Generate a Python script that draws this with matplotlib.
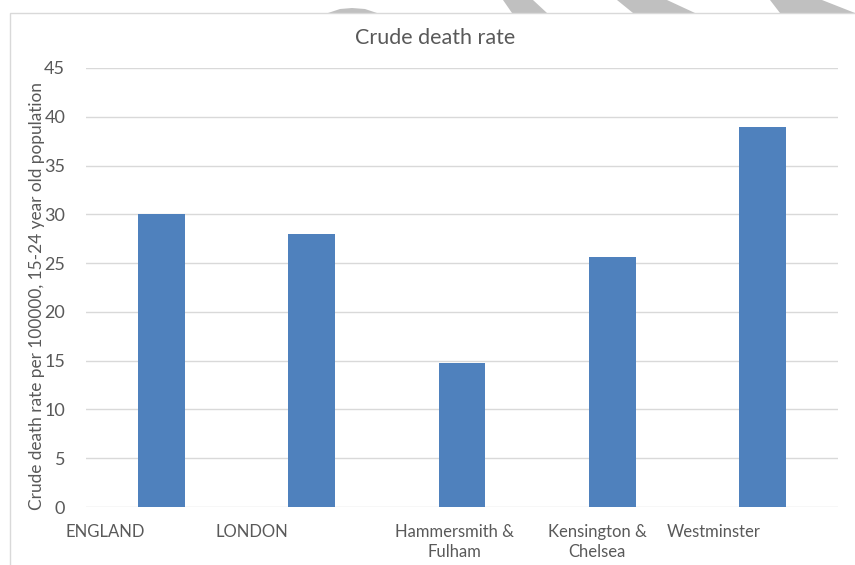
import matplotlib.pyplot as plt
from matplotlib.patches import Polygon, Rectangle
from matplotlib.transforms import ScaledTranslation

# dados do grafico
areas = ["ENGLAND", "LONDON", "Hammersmith &\nFulham", "Kensington &\nChelsea", "Westminster"]
taxas = [30.0, 28.0, 14.8, 25.6, 39.0]
ticks_y = [0, 5, 10, 15, 20, 25, 30, 35, 40, 45]

W, H = 855, 565
fonte = ["Lato", "DejaVu Sans"]
cinza = "#595959"

fig = plt.figure(figsize=(W / 100, H / 100), dpi=100)

def px(x, y):
    # converte pixel (origem no topo) para coordenadas da figura
    return (x / W, 1 - y / H)

# marca d'agua cinza no topo
for pts in [[(503, 0), (533, 0), (547, 13), (512, 13)],
            [(617, 0), (667, 0), (695, 13), (633, 13)],
            [(770, 0), (822, 0), (855, 13), (780, 13)]]:
    fig.patches.append(Polygon([px(*p) for p in pts], closed=True, transform=fig.transFigure,
                               facecolor="#c0c0c0", edgecolor="none", zorder=0))
fig.patches.append(Polygon([px(*p) for p in [(328, 13), (340, 9), (352, 8), (365, 9), (377, 13)]],
                           closed=True, transform=fig.transFigure, facecolor="#c0c0c0",
                           edgecolor="none", zorder=0))
# borda do grafico
x0, y0 = px(10, H + 5)
x1, y1 = px(W + 5, 13)
fig.patches.append(Rectangle((x0, y0), x1 - x0, y1 - y0, transform=fig.transFigure,
                             facecolor="white", edgecolor="#d9d9d9", linewidth=1, zorder=1))

ax = fig.add_axes([86 / W, 58 / H, (838 - 86) / W, (507 - 68) / H])
ax.set_facecolor("none")
ax.set_zorder(2)

pos = list(range(len(areas)))
ax.bar(pos, taxas, width=0.31, color="#4f81bd", zorder=3)

ax.set_xlim(-0.5, len(areas) - 0.5)
ax.set_ylim(0, 45)
ax.set_yticks(ticks_y)
ax.grid(axis="y", color="#d9d9d9", linewidth=1, zorder=0)
ax.set_axisbelow(True)
for s in ax.spines.values():
    s.set_visible(False)
ax.tick_params(length=0)
ax.tick_params(axis="y", pad=15, labelsize=13, labelcolor=cinza)
ax.tick_params(axis="x", pad=12, labelsize=12, labelcolor=cinza)
for t in ax.get_yticklabels():
    t.set_family(fonte)

ax.set_xticks(pos)
ax.set_xticklabels(areas, family=fonte, linespacing=1.35)
deslocamentos = [-56, -60, -8, -15, -49]
for t, d in zip(ax.get_xticklabels(), deslocamentos):
    t.set_transform(t.get_transform() + ScaledTranslation(d / 100, 0, fig.dpi_scale_trans))

fig.text(435 / W, 1 - 38 / H, "Crude death rate", ha="center", va="center",
         fontsize=15.5, color=cinza, family=fonte)
fig.text(37 / W, 1 - 296 / H, "Crude death rate per 100000, 15-24 year old population",
         rotation=90, ha="center", va="center", fontsize=12.4, color=cinza, family=fonte)

fig.savefig("out.png", dpi=100)
